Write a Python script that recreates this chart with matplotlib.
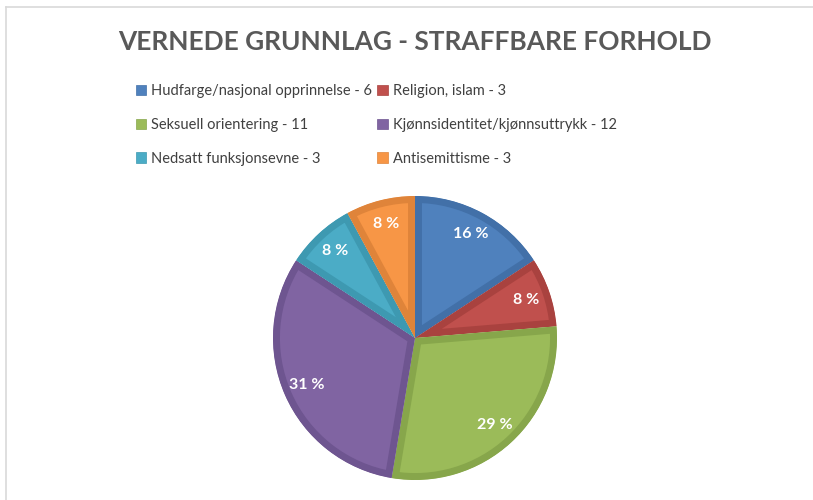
import matplotlib.pyplot as plt
from matplotlib.patches import Patch
from matplotlib.lines import Line2D

# data
categories = ["Hudfarge/nasjonal opprinnelse", "Religion, islam", "Seksuell orientering",
              "Kjønnsidentitet/kjønnsuttrykk", "Nedsatt funksjonsevne", "Antisemittisme"]
counts = [6, 3, 11, 12, 3, 3]
pct_labels = ["16 %", "8 %", "29 %", "31 %", "8 %", "8 %"]

fills = ["#4F81BD", "#C0504D", "#9BBB59", "#8064A2", "#4BACC6", "#F79646"]
edges = ["#4270A8", "#A9423F", "#87A64B", "#6E5590", "#3E99B1", "#DF843A"]

plt.rcParams['font.family'] = ['Lato', 'DejaVu Sans']

W, H = 813, 500
fig = plt.figure(figsize=(W / 100, H / 100), dpi=100)
fig.patch.set_facecolor("white")

# thin chart-area frame (left and top edges visible)
fig.add_artist(Line2D([6 / W, 6 / W], [0, 1 - 7 / H], color="#D9D9D9", lw=1.2,
                      transform=fig.transFigure))
fig.add_artist(Line2D([6 / W, 1], [1 - 7 / H, 1 - 7 / H], color="#D9D9D9", lw=1.2,
                      transform=fig.transFigure))

fig.text(415 / W, 1 - 42 / H, "VERNEDE GRUNNLAG - STRAFFBARE FORHOLD",
         ha="center", va="center", fontsize=18.9, fontweight="bold", color="#595959")

# pie axes: centre (415, 338) px, radius 142 px
cx, cy, r = 415, H - 338, 142
ax = fig.add_axes([(cx - r) / W, (cy - r) / H, 2 * r / W, 2 * r / H])

lab_iter = iter(pct_labels)
wedges, texts, autotexts = ax.pie(counts, colors=fills, startangle=90, counterclock=False,
                                  radius=1, autopct=lambda p: next(lab_iter), pctdistance=0.83,
                                  textprops=dict(color="white", fontsize=11.5, fontweight="bold"))
ax.set_xlim(-1, 1)
ax.set_ylim(-1, 1)
ax.set_aspect("equal")
ax.axis("off")

for w, ec in zip(wedges, edges):
    w.set_edgecolor(ec)
    w.set_linewidth(10)
    w.set_joinstyle("round")
    w.set_clip_on(True)  # pie turns clipping off
    w.set_clip_path(w.get_path(), ax.transData)  # keep the thick border inside the slice

# legend, row-major order as in the original
handles = [Patch(facecolor=f, edgecolor=e, lw=0.5) for f, e in zip(fills, edges)]
labels = [f"{c} - {n}" for c, n in zip(categories, counts)]
order = [0, 2, 4, 1, 3, 5]
fig.legend([handles[i] for i in order], [labels[i] for i in order], ncol=2,
           loc="upper left", bbox_to_anchor=(136 / W, 1 - 84 / H), frameon=False,
           fontsize=10.5, labelcolor="#404040", handlelength=0.7, handleheight=0.7,
           handletextpad=0.35, columnspacing=0.35, labelspacing=1.36, borderaxespad=0,
           borderpad=0)

fig.savefig("out.png", dpi=100)
